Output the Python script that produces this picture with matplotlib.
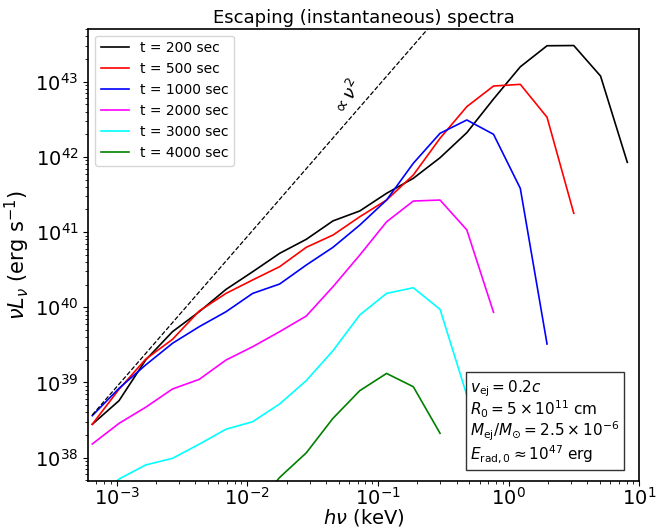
import numpy as np
import matplotlib
matplotlib.use("Agg")
import matplotlib.pyplot as plt

# Photon energy grid (keV)
energy = [6.52e-4, 1.045e-3, 1.67e-3, 2.68e-3, 4.29e-3, 6.88e-3, 1.10e-2,
          1.77e-2, 2.83e-2, 4.53e-2, 7.26e-2, 0.1164, 0.1864, 0.2986,
          0.4785, 0.766, 1.228, 1.967, 3.15, 5.05, 8.09]

nan = np.nan
L_200 = [2.78e38, 5.73e38, 1.99e39, 4.74e39, 8.73e39, 1.73e40, 2.97e40,
         5.22e40, 8.02e40, 1.41e41, 1.91e41, 3.28e41, 5.19e41, 9.75e41,
         2.10e42, 5.89e42, 1.58e43, 3.01e43, 3.03e43, 1.19e43, 8.47e41]
L_500 = [2.78e38, 8.13e38, 2.04e39, 3.75e39, 8.93e39, 1.53e40, 2.31e40,
         3.47e40, 6.28e40, 9.14e40, 1.60e41, 2.67e41, 5.74e41, 1.77e42,
         4.66e42, 8.77e42, 9.23e42, 3.37e42, 1.78e41]
L_1000 = [3.62e38, 8.37e38, 1.71e39, 3.32e39, 5.52e39, 8.73e39, 1.53e40,
          2.04e40, 3.65e40, 6.28e40, 1.24e41, 2.67e41, 8.22e41, 2.06e42,
          3.10e42, 2.00e42, 3.82e41, 3.25e39]
L_2000 = [1.52e38, 2.86e38, 4.68e38, 8.20e38, 1.10e39, 1.99e39, 2.99e39,
          4.74e39, 7.66e39, 1.88e40, 4.95e40, 1.37e41, 2.59e41, 2.67e41,
          1.07e41, 8.59e39]
L_3000 = [2.5e37, 5.2e37, 8.0e37, 9.8e37, 1.51e38, 2.39e38, 3.01e38,
          5.18e38, 1.06e39, 2.65e39, 7.91e39, 1.53e40, 1.82e40, 9.4e39,
          6.8e38]
L_4000 = [nan, nan, nan, nan, nan, nan, 2.0e37,
          5.46e37, 1.16e38, 3.34e38, 7.78e38, 1.32e39, 8.79e38, 2.11e38]

labels = ["t = 200 sec", "t = 500 sec", "t = 1000 sec",
          "t = 2000 sec", "t = 3000 sec", "t = 4000 sec"]
series = [L_200, L_500, L_1000, L_2000, L_3000, L_4000]
colors = ["black", "red", "blue", "magenta", "cyan", "green"]

# nu^2 reference line anchor
ref_E = 6.52e-4
ref_L = 3.7e38

fig = plt.figure(figsize=(6.56, 5.29), dpi=100)
ax = fig.add_axes([0.1346, 0.0913, 0.84, 0.8544])

E = np.array(energy)
for vals, lab, c in zip(series, labels, colors):
    v = np.array(vals, dtype=float)
    ax.plot(E[:len(v)], v, color=c, lw=1.2, label=lab)

ax.plot(E, ref_L * (E / ref_E) ** 2, 'k--', lw=0.9)
ax.text(0.0585, 6.1e42, r'$\propto \nu^2$', rotation=60, fontsize=13,
        ha='center', va='center')

ax.set_xscale('log')
ax.set_yscale('log')
ax.set_xlim(6.08e-4, 10)
ax.set_ylim(4.94e37, 5.07e43)

for s in ax.spines.values():
    s.set_linewidth(1.2)
ax.tick_params(axis='both', which='major', labelsize=14)
ax.tick_params(axis='x', which='major', pad=1.0)
ax.set_xlabel(r'$h\nu$ (keV)', fontsize=14, labelpad=-1)
ax.set_ylabel(r'$\nu L_\nu$ (erg s$^{-1}$)', fontsize=15, labelpad=2)
ax.set_title('Escaping (instantaneous) spectra', fontsize=13, pad=4)

ax.legend(loc='upper left', fontsize=10)

txt = (r'$v_{\rm ej} = 0.2c$' + '\n' +
       r'$R_0 = 5\times10^{11}$ cm' + '\n' +
       r'$M_{\rm ej}/M_{\odot} = 2.5\times10^{-6}$' + '\n' +
       r'$E_{\rm rad,0} \approx 10^{47}$ erg')
ax.text(0.693, 0.2274, txt, transform=ax.transAxes, fontsize=11,
        ha='left', va='top', zorder=10, linespacing=1.0,
        bbox=dict(boxstyle='square,pad=0.3', facecolor='white',
                  edgecolor='black', alpha=0.8))

fig.savefig('out.png', dpi=100)
